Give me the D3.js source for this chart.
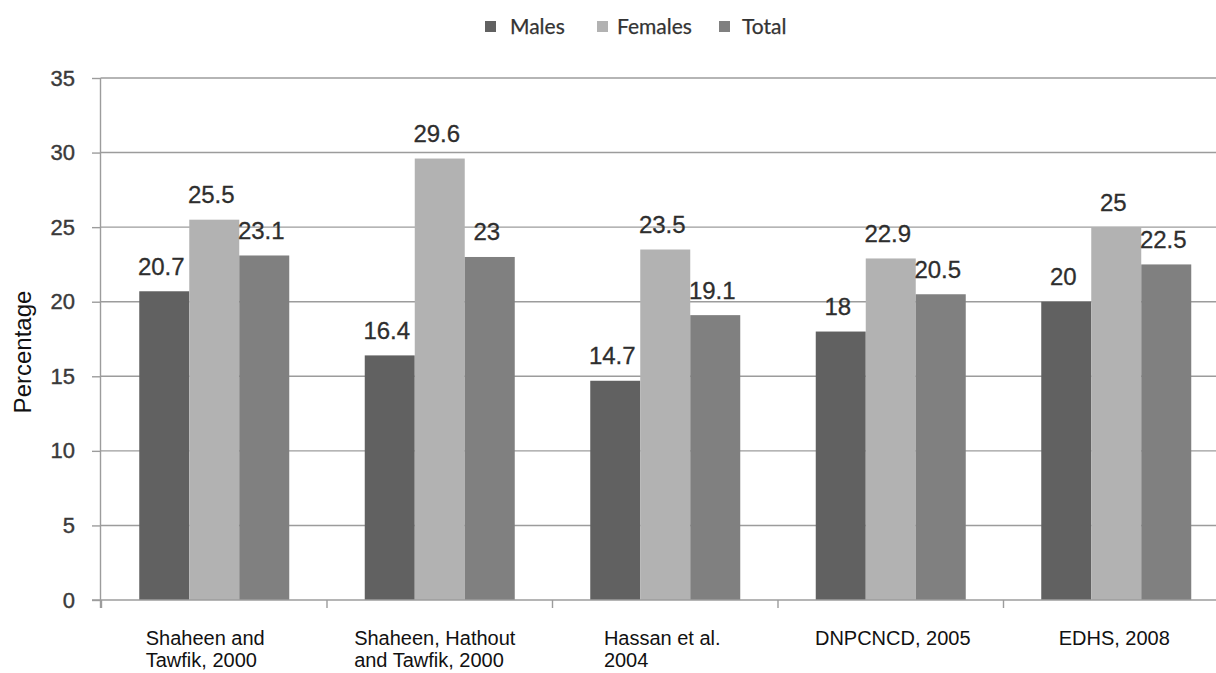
<!DOCTYPE html>
<html>
<head>
<meta charset="utf-8">
<script src="https://cdn.jsdelivr.net/npm/d3@7"></script>
<style>
  html, body { margin: 0; padding: 0; background: #ffffff; }
  svg { display: block; }
</style>
</head>
<body>
<svg id="chart" width="1216" height="673"></svg>
<script>
// Prevalence by study and sex
const categories = [
  "Shaheen and\nTawfik, 2000",
  "Shaheen, Hathout\nand Tawfik, 2000",
  "Hassan et al.\n2004",
  "DNPCNCD, 2005",
  "EDHS, 2008"
];
const seriesNames = ["Males", "Females", "Total"];
const males   = [20.7, 16.4, 14.7, 18, 20];
const females = [25.5, 29.6, 23.5, 22.9, 25];
const total   = [23.1, 23, 19.1, 20.5, 22.5];
const yTicks  = [0, 5, 10, 15, 20, 25, 30, 35];
const yTitle  = "Percentage";

const seriesValues = [males, females, total];
const colors = ["#616161", "#b2b2b2", "#808080"];

const svg = d3.select("#chart");
const W = 1216, H = 673;

const y = d3.scaleLinear().domain([0, 35]).range([600, 78]);

const x0 = d3.scaleBand()
  .domain(categories)
  .range([101.5, 1229])
  .paddingInner(0.3348)
  .paddingOuter(0.1674);

const x1 = d3.scaleBand()
  .domain(seriesNames)
  .range([0, x0.bandwidth()]);

const color = d3.scaleOrdinal().domain(seriesNames).range(colors);

const gridColor = "#9c9c9c";
const sans = "Liberation Sans, Arial, sans-serif";

// y ticks and labels
const yAxis = d3.axisLeft(y).tickValues(yTicks).tickSize(8.5).tickPadding(17);
const gy = svg.append("g").attr("transform", "translate(100.5,0)").call(yAxis);
gy.select(".domain").remove();
gy.selectAll(".tick line").attr("stroke", gridColor).attr("stroke-width", 1.4);
gy.selectAll(".tick text")
  .attr("font-family", sans)
  .attr("font-size", 22)
  .attr("fill", "#3a3a3a")
  .attr("stroke", "#3a3a3a")
  .attr("stroke-width", 0.4);

// horizontal gridlines
svg.append("g").selectAll("line.grid")
  .data(yTicks.filter(d => d > 0))
  .join("line")
  .attr("x1", 100.5).attr("x2", W)
  .attr("y1", d => y(d)).attr("y2", d => y(d))
  .attr("stroke", gridColor).attr("stroke-width", 1.4);

// y-axis line
svg.append("line")
  .attr("x1", 100.5).attr("x2", 100.5)
  .attr("y1", y(35)).attr("y2", y(0) + 8)
  .attr("stroke", gridColor).attr("stroke-width", 1.4);

// bars
const groups = svg.append("g").selectAll("g.group")
  .data(categories)
  .join("g")
  .attr("transform", d => `translate(${x0(d)},0)`);

groups.selectAll("rect")
  .data((d, i) => seriesNames.map((s, k) => ({ s, v: seriesValues[k][i] })))
  .join("rect")
  .attr("x", d => x1(d.s))
  .attr("width", x1.bandwidth())
  .attr("y", d => y(d.v))
  .attr("height", d => y(0) - y(d.v))
  .attr("fill", d => color(d.s));

// x-axis line and ticks at category boundaries
svg.append("line")
  .attr("x1", 92).attr("x2", W)
  .attr("y1", y(0)).attr("y2", y(0))
  .attr("stroke", gridColor).attr("stroke-width", 1.4);

const half = x0.step() * x0.paddingInner() / 2;
const boundaries = categories.map(c => x0(c) - half);
svg.append("g").selectAll("line")
  .data(boundaries)
  .join("line")
  .attr("x1", d => d).attr("x2", d => d)
  .attr("y1", y(0)).attr("y2", y(0) + 8)
  .attr("stroke", gridColor).attr("stroke-width", 1.4);

// value labels
groups.selectAll("text.value")
  .data((d, i) => seriesNames.map((s, k) => ({ s, v: seriesValues[k][i] })))
  .join("text")
  .attr("class", "value")
  .attr("x", d => x1(d.s) + x1.bandwidth() / 2 - 3)
  .attr("y", d => y(d.v) - 16.5)
  .attr("text-anchor", "middle")
  .attr("font-family", sans)
  .attr("font-size", 24)
  .attr("fill", "#2e2e2e")
  .attr("stroke", "#2e2e2e")
  .attr("stroke-width", 0.3)
  .text(d => d.v);

// category labels: wrapped lines, left-aligned block centred on the band
const labelShift = [-9, -5, -3, 2, -2];
const catG = svg.append("g");
categories.forEach((c, ci) => {
  const lines = c.split("\n");
  const t = catG.append("text")
    .attr("font-family", sans)
    .attr("font-size", 20)
    .attr("fill", "#111");
  const spans = lines.map((ln, i) => t.append("tspan").attr("y", 645 + i * 22).text(ln));
  const maxW = d3.max(spans, s => s.node().getComputedTextLength());
  const left = x0(c) + x0.bandwidth() / 2 - maxW / 2 + labelShift[ci];
  spans.forEach(s => s.attr("x", left));
});

// y title
svg.append("text")
  .attr("transform", "translate(31,352) rotate(-90)")
  .attr("text-anchor", "middle")
  .attr("font-family", sans)
  .attr("font-size", 24)
  .attr("fill", "#111")
  .text(yTitle);

// legend
const legendX = [485, 597, 719];
const lg = svg.append("g").selectAll("g")
  .data(seriesNames)
  .join("g")
  .attr("transform", (d, i) => `translate(${legendX[i]},0)`);
lg.append("rect")
  .attr("x", 0).attr("y", 21)
  .attr("width", 11).attr("height", 11)
  .attr("fill", d => color(d));
lg.append("text")
  .attr("x", (d, i) => [25, 20, 23][i])
  .attr("y", 34)
  .attr("font-family", "Lato, Open Sans, sans-serif")
  .attr("font-size", 21)
  .attr("fill", "#333")
  .attr("stroke", "#333")
  .attr("stroke-width", 0.25)
  .text(d => d);
</script>
</body>
</html>
